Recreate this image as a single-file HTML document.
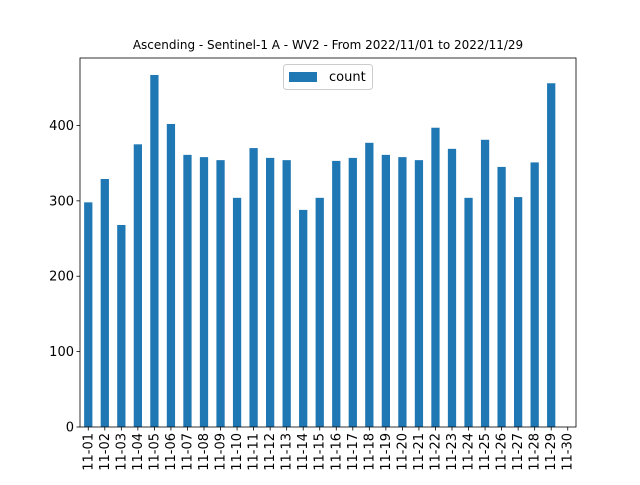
<!DOCTYPE html>
<html><head><meta charset="utf-8"><style>
body{margin:0;background:#fff;}
svg text{font-family:"DejaVu Sans","Liberation Sans",sans-serif;fill:#000;}
</style></head><body>
<svg id="chart" width="640" height="480"></svg>
<script>
const categories=["11-01","11-02","11-03","11-04","11-05","11-06","11-07","11-08","11-09","11-10","11-11","11-12","11-13","11-14","11-15","11-16","11-17","11-18","11-19","11-20","11-21","11-22","11-23","11-24","11-25","11-26","11-27","11-28","11-29","11-30"];
const counts=[298,329,268,375,467,402,361,358,354,304,370,357,354,288,304,353,357,377,361,358,354,397,369,304,381,345,305,351,456,0];
const yTicks=[0,100,200,300,400];
const NS="http://www.w3.org/2000/svg";
const svg=document.getElementById('chart');
const L=80,R=576,T=58,B=427,YMAX=489.5;
const y=v=>B-(v/YMAX)*(B-T);
const slot=(R-L)/categories.length;
const x=i=>L+slot*(i+0.5);
function mk(tag,attrs,parent){const e=document.createElementNS(NS,tag);for(const k in attrs)e.setAttribute(k,attrs[k]);(parent||svg).appendChild(e);return e;}
const title=mk('text',{x:(L+R)/2,y:49,'text-anchor':'middle','font-size':'12'});


title.textContent="Ascending - Sentinel-1 A - WV2 - From 2022/11/01 to 2022/11/29";
counts.forEach((v,i)=>{
  const r=mk('rect',{x:x(i)-slot/4,y:y(v),width:slot/2,height:B-y(v),fill:'#1f77b4'});
  
  
  mk('line',{x1:x(i),x2:x(i),y1:B,y2:B+3.5,stroke:'#000','stroke-width':0.8});
  const t=mk('text',{transform:`translate(${x(i)+4},${B+6}) rotate(-90)`,'text-anchor':'end','font-size':'13'});
  
  
  t.textContent=categories[i];
});
yTicks.forEach(v=>{
  mk('line',{x1:L-3.5,x2:L,y1:y(v),y2:y(v),stroke:'#000','stroke-width':0.8});
  const t=mk('text',{x:L-6,y:y(v)+4.5,'text-anchor':'end','font-size':'13'});
  
  
  t.textContent=v;
});
const frame=mk('rect',{x:L,y:T,width:R-L,height:B-T,fill:'none',stroke:'#000','stroke-width':0.8});


const lg=mk('g',{});


mk('rect',{x:283.5,y:64.5,width:89,height:25,rx:3,fill:'#fff',stroke:'#ccc'},lg);
mk('rect',{x:289,y:72,width:28,height:10,fill:'#1f77b4'},lg);
const lt=mk('text',{x:329,y:81,'font-size':'13'},lg);


lt.textContent="count";
</script>
</body></html>
